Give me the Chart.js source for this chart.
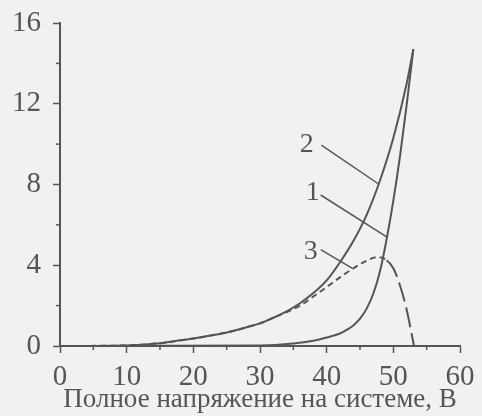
<!DOCTYPE html>
<html>
<head>
<meta charset="utf-8">
<script src="https://cdn.jsdelivr.net/npm/chart.js@4"></script>
<style>
  html, body { margin: 0; padding: 0; background: #f1f1f0; }
  #wrap { width: 482px; height: 416px; }
</style>
</head>
<body>
<div id="wrap"><canvas id="chart" width="482" height="416"></canvas></div>
<script>
// values
const voltage1 = [0, 30, 35, 38, 40, 42, 43, 44, 45, 46, 47, 48, 49, 50, 51, 52, 53];
const curve1 = [0, 0.02, 0.12, 0.26, 0.42, 0.62, 0.8, 1.02, 1.35, 1.85, 2.6, 3.7, 5.3, 7.2, 9.4, 11.95, 14.7];

const voltage2 = [0, 10, 15, 18, 20, 23, 25, 28, 30, 32, 34, 36, 38, 40, 42, 44, 46, 48, 50, 52, 53];
const curve2 = [0, 0.03, 0.14, 0.28, 0.37, 0.54, 0.67, 0.93, 1.12, 1.4, 1.72, 2.12, 2.62, 3.25, 4.15, 5.2, 6.5, 8.2, 10.3, 13.0, 14.7];

const voltage3 = [0, 10, 15, 18, 20, 23, 25, 28, 30, 32, 34, 36, 38, 40, 42, 44, 46, 47.5, 49, 50, 51, 52, 53.1];
const curve3 = [0, 0.03, 0.14, 0.28, 0.37, 0.54, 0.67, 0.93, 1.12, 1.4, 1.68, 2.0, 2.45, 2.92, 3.4, 3.85, 4.22, 4.4, 4.25, 3.85, 3.0, 1.8, 0];

const xMinorTicks = [5, 15, 25, 35, 45, 55];
const yMinorTicks = [2, 6, 10, 14];

// curve numbers: text position and leader line ends (in data units)
const curveNames = ['2', '1', '3'];
const nameAt = [[37.0, 9.95], [37.9, 7.6], [37.6, 4.65]];
const leaderFrom = [[39.2, 9.95], [39.1, 7.48], [39.1, 4.77]];
const leaderTo = [[47.9, 8.0], [49.0, 5.4], [43.8, 3.86]];

const ink = '#555555';
const serif = "'Liberation Serif', 'DejaVu Serif', serif";

function toPoints(xs, ys) {
  return xs.map((x, i) => ({ x: x, y: ys[i] }));
}

const extras = {
  id: 'extras',
  afterDraw(chart) {
    const c = chart.ctx;
    const xs = chart.scales.x, ys = chart.scales.y;
    c.save();
    c.strokeStyle = ink;
    c.lineWidth = 1.5;
    // minor ticks
    xMinorTicks.forEach(v => {
      const px = xs.getPixelForValue(v);
      c.beginPath(); c.moveTo(px, ys.bottom); c.lineTo(px, ys.bottom + 4); c.stroke();
    });
    yMinorTicks.forEach(v => {
      const py = ys.getPixelForValue(v);
      c.beginPath(); c.moveTo(xs.left - 4, py); c.lineTo(xs.left, py); c.stroke();
    });
    // leader lines
    leaderFrom.forEach((p, i) => {
      c.beginPath();
      c.moveTo(xs.getPixelForValue(p[0]), ys.getPixelForValue(p[1]));
      c.lineTo(xs.getPixelForValue(leaderTo[i][0]), ys.getPixelForValue(leaderTo[i][1]));
      c.stroke();
    });
    // curve numbers
    c.fillStyle = ink;
    c.font = '28px ' + serif;
    c.textAlign = 'center';
    c.textBaseline = 'middle';
    curveNames.forEach((t, i) => {
      c.fillText(t, xs.getPixelForValue(nameAt[i][0]), ys.getPixelForValue(nameAt[i][1]));
    });
    c.restore();
  }
};

new Chart(document.getElementById('chart'), {
  type: 'line',
  data: {
    datasets: [{
      label: '1',
      data: toPoints(voltage1, curve1),
      borderColor: ink,
      borderWidth: 2,
      pointRadius: 0,
      cubicInterpolationMode: 'monotone'
    }, {
      label: '2',
      data: toPoints(voltage2, curve2),
      borderColor: ink,
      borderWidth: 2,
      pointRadius: 0,
      cubicInterpolationMode: 'monotone'
    }, {
      label: '3',
      data: toPoints(voltage3, curve3),
      borderColor: ink,
      borderWidth: 2,
      pointRadius: 0,
      cubicInterpolationMode: 'monotone',
      borderDash: [6, 4],
      segment: {
        borderDash: ctx => ctx.p0.parsed.x >= 48 ? [20, 6] : [6, 4]
      }
    }]
  },
  options: {
    responsive: false,
    animation: false,
    layout: { padding: { top: 23, right: 22, left: 0, bottom: 0 } },
    plugins: {
      legend: { display: false },
      tooltip: { enabled: false }
    },
    scales: {
      x: {
        type: 'linear',
        min: 0,
        max: 60,
        afterFit: scale => { scale.height = 70; scale.paddingLeft = 0; scale.paddingRight = 0; },
        border: { color: ink, width: 2 },
        grid: { drawOnChartArea: false, tickLength: 7, tickColor: ink, tickWidth: 1.5 },
        ticks: { stepSize: 10, color: ink, padding: 7, font: { family: serif, size: 29 } },
        title: {
          display: true,
          text: 'Полное напряжение на системе, В',
          color: ink,
          padding: { top: 0, bottom: 0 },
          font: { family: serif, size: 27 }
        }
      },
      y: {
        min: 0,
        max: 16,
        afterFit: scale => { scale.width = 60; scale.paddingTop = 0; scale.paddingBottom = 0; },
        border: { color: ink, width: 2 },
        grid: { drawOnChartArea: false, tickLength: 7, tickColor: ink, tickWidth: 1.5 },
        ticks: { stepSize: 4, color: ink, padding: 12, font: { family: serif, size: 29 } }
      }
    }
  },
  plugins: [extras]
});
</script>
</body>
</html>
